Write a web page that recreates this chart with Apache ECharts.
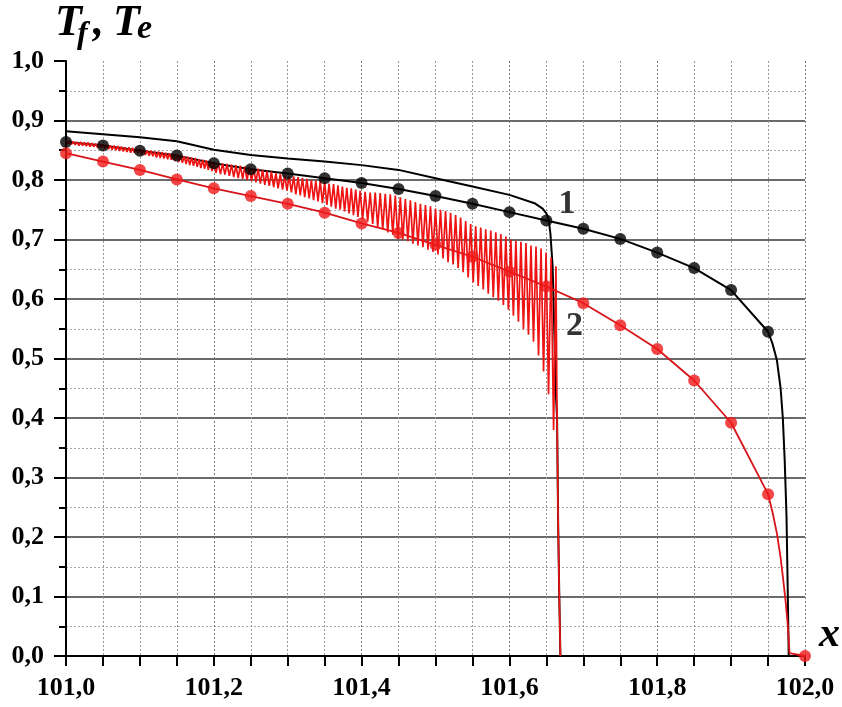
<!DOCTYPE html>
<html>
<head>
<meta charset="utf-8">
<script src="https://cdn.jsdelivr.net/npm/echarts@6/dist/echarts.min.js"></script>
<style>html,body{margin:0;padding:0;background:#fff;}#c{width:842px;height:707px;}</style>
</head>
<body>
<div id="c"></div>
<script>
// ---- data ----
const markerX = [101.00,101.05,101.10,101.15,101.20,101.25,101.30,101.35,101.40,101.45,101.50,101.55,101.60,101.65,101.70,101.75,101.80,101.85,101.90,101.95];
const curve1Markers = [0.864,0.858,0.849,0.841,0.828,0.818,0.811,0.803,0.795,0.785,0.773,0.760,0.746,0.732,0.718,0.701,0.678,0.652,0.615,0.545];
const curve1Tail = [[101.956,0.525],[101.962,0.497],[101.967,0.450],[101.970,0.400],[101.9725,0.330],[101.975,0.234],[101.9765,0.120],[101.978,0.0]];
const curve2Markers = [0.845,0.831,0.817,0.801,0.786,0.773,0.760,0.745,0.727,0.711,0.691,0.671,0.646,0.621,0.593,0.556,0.516,0.463,0.392,0.272];
const curve2Tail = [[101.956,0.242],[101.962,0.206],[101.967,0.165],[101.970,0.134],[101.9735,0.095],[101.9765,0.055],[101.979,0.005],[102.0,0.0]];
const curve2EndMarker = [[102.0,0.0]];
const upperBlack = [[101.00,0.882],[101.05,0.877],[101.10,0.872],[101.15,0.865],[101.175,0.858],[101.20,0.851],[101.25,0.842],[101.30,0.836],[101.35,0.831],[101.40,0.825],[101.45,0.817],[101.50,0.803],[101.55,0.789],[101.60,0.775],[101.634,0.761],[101.645,0.752],[101.650,0.744],[101.653,0.735],[101.6555,0.710],[101.6585,0.654],[101.6605,0.560],[101.6625,0.450],[101.6645,0.400],[101.6660,0.220],[101.6675,0.100],[101.6690,0.0]];
const redOsc = [
[101.0000,0.866],[101.0025,0.861],[101.0050,0.866],[101.0075,0.860],[101.0100,0.865],[101.0125,0.859],[101.0150,0.864],[101.0175,0.858],[101.0200,0.864],[101.0225,0.858],
[101.0250,0.863],[101.0275,0.857],[101.0300,0.863],[101.0325,0.856],[101.0350,0.862],[101.0375,0.856],[101.0400,0.861],[101.0425,0.855],[101.0450,0.861],[101.0475,0.854],
[101.0500,0.860],[101.0525,0.853],[101.0550,0.859],[101.0575,0.852],[101.0600,0.858],[101.0625,0.851],[101.0650,0.858],[101.0675,0.850],[101.0700,0.857],[101.0725,0.849],
[101.0750,0.856],[101.0775,0.848],[101.0800,0.855],[101.0825,0.847],[101.0850,0.855],[101.0875,0.846],[101.0900,0.854],[101.0925,0.846],[101.0950,0.853],[101.0975,0.845],
[101.1000,0.852],[101.1025,0.843],[101.1050,0.851],[101.1075,0.842],[101.1100,0.850],[101.1125,0.841],[101.1150,0.849],[101.1175,0.840],[101.1200,0.848],[101.1225,0.838],
[101.1250,0.848],[101.1275,0.837],[101.1300,0.847],[101.1325,0.836],[101.1350,0.846],[101.1375,0.835],[101.1400,0.845],[101.1425,0.834],[101.1450,0.844],[101.1475,0.832],
[101.1500,0.843],[101.1525,0.830],[101.1550,0.842],[101.1575,0.829],[101.1600,0.840],[101.1625,0.827],[101.1650,0.839],[101.1675,0.825],[101.1700,0.838],[101.1725,0.824],
[101.1750,0.837],[101.1775,0.822],[101.1800,0.835],[101.1825,0.820],[101.1850,0.834],[101.1875,0.819],[101.1900,0.833],[101.1925,0.817],[101.1950,0.832],[101.1975,0.815],
[101.2000,0.830],
[101.203,0.812],[101.206,0.829],[101.209,0.810],[101.212,0.828],[101.215,0.809],[101.218,0.827],[101.221,0.807],[101.224,0.826],[101.227,0.805],[101.230,0.825],
[101.233,0.803],[101.236,0.824],[101.239,0.802],[101.242,0.823],[101.245,0.800],[101.248,0.822],[101.251,0.798],[101.254,0.820],[101.257,0.796],[101.260,0.819],
[101.263,0.794],[101.266,0.817],[101.269,0.792],[101.272,0.815],[101.275,0.790],[101.278,0.814],[101.281,0.788],[101.284,0.812],[101.287,0.786],[101.290,0.810],
[101.293,0.784],[101.296,0.808],[101.299,0.782],[101.302,0.807],[101.305,0.779],[101.308,0.806],[101.311,0.776],[101.314,0.805],[101.317,0.774],[101.320,0.803],
[101.323,0.771],[101.326,0.802],[101.329,0.769],[101.332,0.800],[101.335,0.766],[101.338,0.799],[101.341,0.764],[101.344,0.798],[101.347,0.761],[101.350,0.796],
[101.353,0.758],[101.356,0.794],[101.359,0.755],[101.362,0.793],[101.365,0.752],[101.368,0.791],[101.371,0.750],[101.374,0.789],[101.377,0.747],[101.380,0.787],
[101.383,0.744],[101.386,0.786],[101.389,0.741],[101.392,0.784],[101.395,0.738],[101.398,0.782],
[101.4014,0.734],[101.4048,0.780],[101.4082,0.730],[101.4116,0.779],[101.4150,0.726],[101.4184,0.779],[101.4218,0.721],[101.4252,0.778],[101.4286,0.717],[101.4320,0.777],
[101.4354,0.712],[101.4388,0.776],[101.4422,0.708],[101.4456,0.774],[101.4490,0.701],[101.4524,0.771],[101.4558,0.700],[101.4592,0.768],[101.4626,0.697],[101.4660,0.766],
[101.4694,0.693],[101.4728,0.763],[101.4762,0.690],[101.4796,0.760],[101.4830,0.687],[101.4864,0.758],[101.4898,0.683],[101.4932,0.756],[101.4966,0.679],[101.5000,0.752],
[101.5034,0.675],[101.5068,0.750],[101.5102,0.668],[101.5136,0.748],[101.5170,0.662],[101.5204,0.745],[101.5238,0.658],[101.5272,0.741],[101.5306,0.652],[101.5340,0.737],
[101.5374,0.645],[101.5408,0.731],[101.5442,0.636],[101.5476,0.726],[101.5510,0.628],[101.5544,0.722],[101.5578,0.622],[101.5612,0.720],[101.5646,0.616],[101.5680,0.717],
[101.5714,0.609],[101.5748,0.715],[101.5782,0.603],[101.5816,0.712],[101.5850,0.597],[101.5884,0.709],[101.5918,0.590],[101.5952,0.705],[101.5986,0.582],[101.6020,0.700],
[101.6054,0.572],[101.6088,0.698],[101.6122,0.562],[101.6156,0.696],[101.6190,0.549],[101.6224,0.694],[101.6258,0.540],[101.6292,0.690],[101.6326,0.528],[101.6360,0.688],
[101.6394,0.505],[101.6428,0.685],[101.6462,0.478],[101.6496,0.678],[101.6530,0.440],[101.6564,0.670],[101.6598,0.380],
[101.6630,0.655],[101.6645,0.400],[101.6660,0.220],[101.6675,0.100],[101.6690,0.0]
];
const curveLabels = [{text:'1', x:101.678, y:0.76},{text:'2', x:101.688, y:0.555}];

// ---- build ----
const blackMarkerPts = markerX.map((x,i)=>[x,curve1Markers[i]]);
const redMarkerPts = markerX.map((x,i)=>[x,curve2Markers[i]]);
const chart = echarts.init(document.getElementById('c'));
const SERIF = 'Liberation Serif';
const fmt = v => v.toFixed(1).replace('.', ',');

chart.setOption({
  animation:false,
  backgroundColor:'#fff',
  grid:{left:66,right:37,top:61,bottom:51,containLabel:false},
  xAxis:{
    type:'value', min:101, max:102, interval:0.2,
    axisLine:{onZero:false,lineStyle:{color:'#000',width:2}},
    axisTick:{show:true,length:10,lineStyle:{color:'#000',width:2}},
    minorTick:{show:true,splitNumber:4,length:10,lineStyle:{color:'#000',width:2}},
    splitLine:{show:true,showMinLine:false,lineStyle:{color:'#777',width:1,type:[2,2]}},
    minorSplitLine:{show:true,lineStyle:{color:'#999',width:1,type:[2,2]}},
    axisLabel:{formatter:fmt,fontFamily:SERIF,fontWeight:'bold',fontSize:26,color:'#000',margin:19}
  },
  yAxis:{
    type:'value', min:0, max:1, interval:0.1,
    axisLine:{show:true,onZero:false,lineStyle:{color:'#000',width:2}},
    axisTick:{show:true,length:12,lineStyle:{color:'#000',width:2}},
    minorTick:{show:true,splitNumber:2,length:7,lineStyle:{color:'#000',width:2}},
    splitLine:{show:true,showMinLine:false,showMaxLine:false,lineStyle:{color:'#3a3a3a',width:1.5}},
    minorSplitLine:{show:true,lineStyle:{color:'#aaa',width:1,type:[2,2]}},
    axisLabel:{formatter:fmt,fontFamily:SERIF,fontWeight:'bold',fontSize:26,color:'#000',margin:22}
  },
  series:[
    {type:'line',data:upperBlack,showSymbol:false,lineStyle:{color:'#000',width:2},z:3},
    {type:'line',data:blackMarkerPts.concat(curve1Tail),showSymbol:false,lineStyle:{color:'#000',width:2},z:3},
    {type:'scatter',data:blackMarkerPts,symbolSize:12,itemStyle:{color:'#000'},z:6},
    {type:'line',data:redMarkerPts.concat(curve2Tail),showSymbol:false,lineStyle:{color:'#d8141a',width:1.8},z:4},
    {type:'scatter',data:redMarkerPts.concat(curve2EndMarker),symbolSize:12,itemStyle:{color:'#f01818'},z:6},
    {type:'line',data:redOsc,showSymbol:false,lineStyle:{color:'#ee1414',width:1.7},z:5},
    {type:'scatter',data:curveLabels.map(d=>[d.x,d.y]),symbolSize:0,silent:true,z:7,
      label:{show:true,position:'inside',formatter:p=>curveLabels[p.dataIndex].text,fontFamily:SERIF,fontWeight:'bold',fontSize:34,color:'#000'}}
  ],
  graphic:[
    {type:'text',left:55,top:2,style:{text:'T',font:'italic bold 44px Liberation Serif',fill:'#000'}},
    {type:'text',left:77,top:19,style:{text:'f',font:'italic bold 32px Liberation Serif',fill:'#000'}},
    {type:'text',left:93,top:2,style:{text:',',font:'italic bold 44px Liberation Serif',fill:'#000'}},
    {type:'text',left:113,top:2,style:{text:'T',font:'italic bold 44px Liberation Serif',fill:'#000'}},
    {type:'text',left:137,top:12,style:{text:'e',font:'italic bold 34px Liberation Serif',fill:'#000'}},
    {type:'text',left:819,top:614,style:{text:'x',font:'italic bold 42px Liberation Serif',fill:'#000'}}
  ]
});
</script>
</body>
</html>
